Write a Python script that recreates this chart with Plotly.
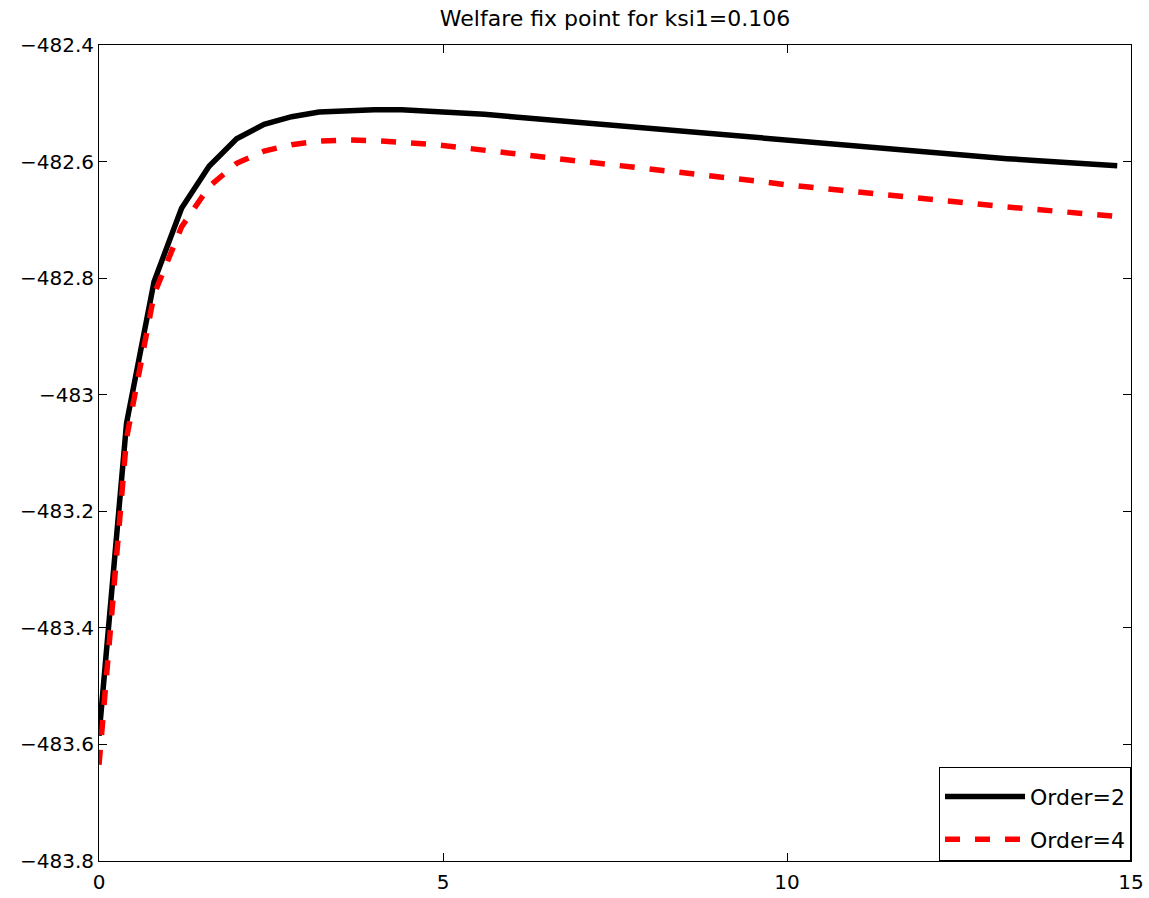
import plotly.graph_objects as go

# Grid of the fixed-point parameter
x_grid = [round(0.4 * i, 1) for i in range(38)]

# Welfare at the fixed point, second-order approximation
welfare_order2 = [
    -483.585, -483.049, -482.806, -482.680, -482.608, -482.561, -482.536, -482.523,
    -482.515, -482.512, -482.511, -482.511, -482.513, -482.515, -482.519, -482.523,
    -482.527, -482.531, -482.535, -482.540, -482.544, -482.548, -482.553, -482.557,
    -482.561, -482.565, -482.569, -482.573, -482.577, -482.581, -482.585, -482.588,
    -482.592, -482.595, -482.598, -482.601, -482.604, -482.607,
]

# Welfare at the fixed point, fourth-order approximation
welfare_order4 = [
    -483.635, -483.075, -482.828, -482.712, -482.643, -482.603, -482.582, -482.571,
    -482.565, -482.563, -482.564, -482.566, -482.570, -482.575, -482.581, -482.587,
    -482.592, -482.597, -482.602, -482.607, -482.612, -482.617, -482.622, -482.628,
    -482.634, -482.640, -482.645, -482.650, -482.655, -482.660, -482.665, -482.669,
    -482.674, -482.678, -482.682, -482.686, -482.690, -482.694,
]

series_names = ["Order=2", "Order=4"]

x_ticks = [0, 5, 10, 15]
y_ticks = [-482.4, -482.6, -482.8, -483.0, -483.2, -483.4, -483.6, -483.8]
y_tick_text = ["\u2212482.4", "\u2212482.6", "\u2212482.8", "\u2212483",
               "\u2212483.2", "\u2212483.4", "\u2212483.6", "\u2212483.8"]

FONT = "DejaVu Sans"

fig = go.Figure()
fig.add_trace(go.Scatter(
    x=x_grid, y=welfare_order2, mode="lines", name=series_names[0],
    line=dict(color="#000000", width=5.5), legendgroup="a",
))
fig.add_trace(go.Scatter(
    x=x_grid, y=welfare_order4, mode="lines", name=series_names[1],
    line=dict(color="#ff0000", width=5.5, dash="15px,15px"), legendgroup="b",
))

axis_common = dict(
    showgrid=False, zeroline=False, showline=True, linecolor="#000000", linewidth=1,
    mirror="allticks", ticks="inside", ticklen=8, tickwidth=1, tickcolor="#000000",
    tickfont=dict(family=FONT, size=20, color="#000000"), automargin=False,
)

fig.update_layout(
    width=1149, height=898,
    margin=dict(l=99, r=18, t=45, b=37),
    paper_bgcolor="#ffffff", plot_bgcolor="#ffffff",
    title=dict(text="Welfare fix point for ksi1=0.106", x=0.5, xref="paper",
               y=1 - 18 / 898, yref="container", yanchor="middle",
               font=dict(family=FONT, size=22, color="#000000")),
    xaxis=dict(range=[0, 15], tickvals=x_ticks, ticklabelstandoff=3, **axis_common),
    yaxis=dict(range=[-483.8, -482.4], tickvals=y_ticks, ticktext=y_tick_text, **axis_common),
    legend=dict(x=1, y=0, xanchor="right", yanchor="bottom",
                bordercolor="#000000", borderwidth=1, bgcolor="#ffffff",
                font=dict(family=FONT, size=22, color="#000000"),
                title=dict(text="\u00a0", font=dict(size=6)),
                tracegroupgap=11, itemwidth=80),
    showlegend=True,
)

fig.write_html("out.html")
